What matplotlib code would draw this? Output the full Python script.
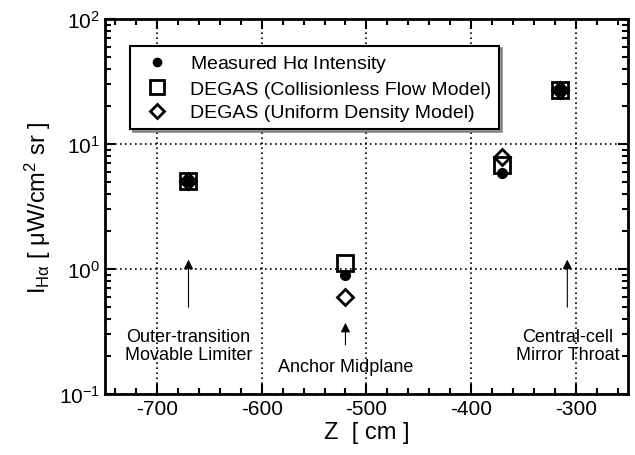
import matplotlib
matplotlib.use('Agg')
import matplotlib.pyplot as plt

plt.rcParams['font.family'] = ['Liberation Sans', 'DejaVu Sans']
plt.rcParams['mathtext.fontset'] = 'custom'
plt.rcParams['mathtext.rm'] = 'Liberation Sans'
plt.rcParams['mathtext.it'] = 'Liberation Sans'
plt.rcParams['axes.unicode_minus'] = False

# positions along the machine axis [cm]
z_meas = [-670, -520, -370, -315]
measured = [5.1, 0.9, 5.9, 27]
collisionless = [5.1, 1.12, 6.8, 27]
uniform = [5.1, 0.6, 7.8, 27]

# annotations: text, arrow x, arrow tail/head y, text y
notes = ['Outer-transition\nMovable Limiter', 'Anchor Midplane', 'Central-cell\nMirror Throat']
note_x = [-670, -520, -308]
arrow_tail = [0.47, 0.235, 0.47]
arrow_head = [1.25, 0.39, 1.25]
text_y = [0.245, 0.166, 0.245]

fig = plt.figure(figsize=(6.35, 4.56), dpi=100)
ax = fig.add_axes([0.165, 0.134, 0.824, 0.822])

ax.plot(z_meas, collisionless, 's', ms=12, mfc='none', mec='black', mew=2,
        label='DEGAS (Collisionless Flow Model)')
ax.plot(z_meas, uniform, 'D', ms=8, mfc='none', mec='black', mew=2,
        label='DEGAS (Uniform Density Model)')
ax.plot(z_meas, measured, 'o', ms=7, color='black',
        label=r'Measured H$\alpha$ Intensity')

ax.set_yscale('log')
ax.set_xlim(-750, -250)
ax.set_ylim(0.1, 100)
ax.set_xticks([-700, -600, -500, -400, -300])
ax.set_xticks(range(-740, -250, 20), minor=True)
ax.grid(True, which='major', color='black', linestyle=(0, (1, 2)), linewidth=1.2)
ax.tick_params(which='both', direction='in', top=True, right=True, labelsize=15, width=1.5)
ax.tick_params(which='major', length=7)
ax.tick_params(which='minor', length=4)
for s in ax.spines.values():
    s.set_linewidth(2)

ax.set_xlabel('Z  [ cm ]', fontsize=17, labelpad=2)
ax.set_ylabel(r'I$_{\mathrm{H}\alpha}$ [ $\mu$W/cm$^2$ sr ]', fontsize=17, labelpad=4)

for t, x, y0, y1, ty in zip(notes, note_x, arrow_tail, arrow_head, text_y):
    ax.annotate('', xy=(x, y1), xytext=(x, y0),
                arrowprops=dict(arrowstyle='-|>', color='black', lw=0.8, mutation_scale=14))
    ax.text(x, ty, t, ha='center', va='center', fontsize=13, linespacing=1.05)

h, l = ax.get_legend_handles_labels()
leg = ax.legend([h[2], h[0], h[1]], [l[2], l[0], l[1]], loc='upper left',
                bbox_to_anchor=(0.03, 0.955), fontsize=14, frameon=True, fancybox=False,
                shadow=True, edgecolor='black', framealpha=1, handletextpad=0.7,
                borderpad=0.4, labelspacing=0.3, markerscale=0.85)
leg.get_frame().set_linewidth(1.5)

fig.savefig('out.png', dpi=100)
